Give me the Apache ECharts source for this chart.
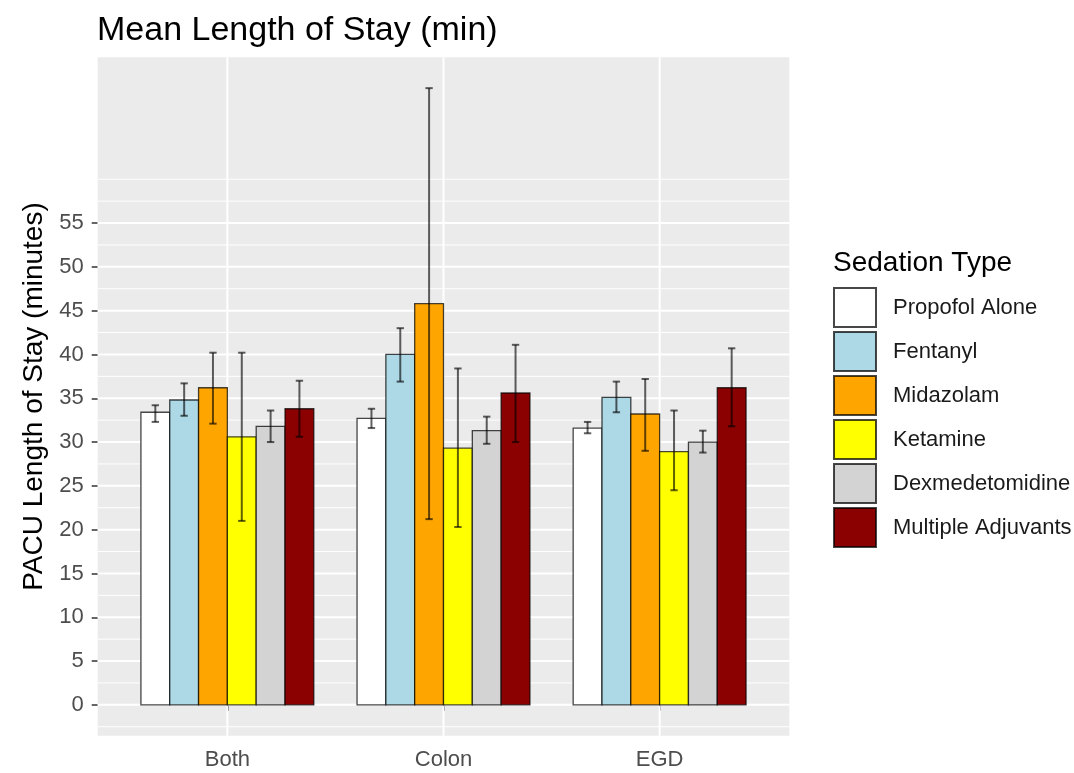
<!DOCTYPE html>
<html>
<head>
<meta charset="utf-8">
<script src="https://cdn.jsdelivr.net/npm/echarts@6.0.0/dist/echarts.min.js"></script>
<style>
html,body{margin:0;padding:0;background:#fff;}
#chart{width:1074px;height:773px;}
</style>
</head>
<body>
<div id="chart"></div>
<script>
// ---- data ----
const categories = ['Both', 'Colon', 'EGD'];
const sedationTypes = ['Propofol Alone', 'Fentanyl', 'Midazolam', 'Ketamine', 'Dexmedetomidine', 'Multiple Adjuvants'];

const propofolMean = [33.4, 32.7, 31.6];
const fentanylMean = [34.8, 40.0, 35.1];
const midazolamMean = [36.2, 45.8, 33.2];
const ketamineMean = [30.6, 29.3, 28.9];
const dexMean = [31.8, 31.3, 30.0];
const multipleMean = [33.8, 35.6, 36.2];

const propofolLo = [32.3, 31.6, 31.0], propofolHi = [34.2, 33.8, 32.3];
const fentanylLo = [33.0, 36.9, 33.4], fentanylHi = [36.7, 43.0, 36.9];
const midazolamLo = [32.1, 21.2, 29.0], midazolamHi = [40.2, 70.4, 37.2];
const ketamineLo = [21.0, 20.3, 24.5], ketamineHi = [40.2, 38.4, 33.6];
const dexLo = [30.0, 29.8, 28.8], dexHi = [33.6, 32.9, 31.3];
const multipleLo = [30.6, 30.0, 31.8], multipleHi = [37.0, 41.1, 40.7];

const yTickLabels = [0, 5, 10, 15, 20, 25, 30, 35, 40, 45, 50, 55];
const yMinorGrid = [-2.5, 2.5, 7.5, 12.5, 17.5, 22.5, 27.5, 32.5, 37.5, 42.5, 47.5, 52.5, 57.5, 60];
const xTickPositions = [1, 2, 3];

// ---- build ----
const means = [propofolMean, fentanylMean, midazolamMean, ketamineMean, dexMean, multipleMean];
const los = [propofolLo, fentanylLo, midazolamLo, ketamineLo, dexLo, multipleLo];
const his = [propofolHi, fentanylHi, midazolamHi, ketamineHi, dexHi, multipleHi];
const fills = ['#FFFFFF', '#ADD8E6', '#FFA500', '#FFFF00', '#D3D3D3', '#8B0000'];

const allHi = [].concat(...his);
const dataMax = Math.max(...allHi);
const yMin = -0.05 * dataMax;
const yMax = dataMax * 1.05;

const nGroups = sedationTypes.length;
const dodgeWidth = 0.8;
const barW = dodgeWidth / nGroups;
const capW = 0.034;
const outline = 'rgba(0,0,0,0.72)';
const FONT = '"Liberation Sans", Arial, sans-serif';

const series = [];

// gridlines
series.push({
  type: 'custom', name: '_minor', silent: true, z: 1,
  data: yMinorGrid.map(v => [v]), encode: {y: 0},
  renderItem: (params, api) => {
    const cs = params.coordSys;
    const y = api.coord([1, api.value(0)])[1];
    return {type: 'line', shape: {x1: cs.x, y1: y, x2: cs.x + cs.width, y2: y},
      style: {stroke: '#FFFFFF', lineWidth: 1}};
  }
});
series.push({
  type: 'custom', name: '_major', silent: true, z: 1,
  data: yTickLabels.map(v => [v]), encode: {y: 0},
  renderItem: (params, api) => {
    const cs = params.coordSys;
    const y = api.coord([1, api.value(0)])[1];
    return {type: 'line', shape: {x1: cs.x, y1: y, x2: cs.x + cs.width, y2: y},
      style: {stroke: '#FFFFFF', lineWidth: 2}};
  }
});
series.push({
  type: 'custom', name: '_vgrid', silent: true, z: 1,
  data: xTickPositions.map(v => [v]), encode: {x: 0},
  renderItem: (params, api) => {
    const cs = params.coordSys;
    const x = api.coord([api.value(0), 0])[0];
    return {type: 'line', shape: {x1: x, y1: cs.y, x2: x, y2: cs.y + cs.height},
      style: {stroke: '#FFFFFF', lineWidth: 2}};
  }
});

// bars
sedationTypes.forEach((name, j) => {
  series.push({
    type: 'custom', name: name, z: 2,
    itemStyle: {color: fills[j], borderColor: outline, borderWidth: 1.3},
    data: categories.map((c, i) => [i + 1, means[j][i]]),
    encode: {x: 0, y: 1},
    renderItem: (params, api) => {
      const xc = api.value(0) + (j - (nGroups - 1) / 2) * barW;
      const v = api.value(1);
      const p0 = api.coord([xc - barW / 2, v]);
      const p1 = api.coord([xc + barW / 2, 0]);
      return {type: 'rect',
        shape: {x: p0[0], y: p0[1], width: p1[0] - p0[0], height: p1[1] - p0[1]},
        style: {fill: fills[j], stroke: outline, lineWidth: 1.3}};
    }
  });
});

// error bars
const errData = [];
sedationTypes.forEach((name, j) => {
  categories.forEach((c, i) => errData.push([i + 1, los[j][i], his[j][i], j]));
});
series.push({
  type: 'custom', name: '_err', silent: true, z: 3,
  data: errData, encode: {x: 0, y: [1, 2]},
  renderItem: (params, api) => {
    const j = api.value(3);
    const xc = api.value(0) + (j - (nGroups - 1) / 2) * barW;
    const lo = api.coord([xc, api.value(1)]);
    const hi = api.coord([xc, api.value(2)]);
    const half = api.size([capW, 0])[0] / 2;
    const st = {stroke: 'rgba(0,0,0,0.62)', lineWidth: 2};
    return {type: 'group', children: [
      {type: 'line', shape: {x1: lo[0], y1: lo[1], x2: hi[0], y2: hi[1]}, style: st},
      {type: 'line', shape: {x1: hi[0] - half, y1: hi[1], x2: hi[0] + half, y2: hi[1]}, style: st},
      {type: 'line', shape: {x1: lo[0] - half, y1: lo[1], x2: lo[0] + half, y2: lo[1]}, style: st}
    ]};
  }
});

const chart = echarts.init(document.getElementById('chart'), null, {renderer: 'canvas'});
chart.setOption({
  animation: false,
  backgroundColor: '#FFFFFF',
  textStyle: {fontFamily: FONT},
  title: [
    {text: 'Mean Length of Stay (min)', left: 92, top: 9,
     textStyle: {fontFamily: FONT, fontSize: 34, fontWeight: 'normal', color: '#000000'}},
    {text: 'Sedation Type', left: 828, top: 244,
     textStyle: {fontFamily: FONT, fontSize: 28, fontWeight: 'normal', color: '#000000'}}
  ],
  legend: {
    orient: 'vertical', left: 828, top: 282,
    itemWidth: 42, itemHeight: 39, itemGap: 3,
    icon: 'rect',
    data: sedationTypes,
    textStyle: {fontFamily: FONT, fontSize: 22, color: '#1A1A1A', padding: [4, 0, 0, 12]},
    selectedMode: false
  },
  grid: {left: 97.7, right: 284.7, top: 57.3, bottom: 37.3, show: true,
    backgroundColor: '#EBEBEB', borderWidth: 0, containLabel: false, outerBoundsMode: 'none'},
  xAxis: {
    type: 'value', min: 0.4, max: 3.6,
    axisLine: {show: false},
    splitLine: {show: false},
    axisTick: {show: true, customValues: xTickPositions, length: 6, lineStyle: {color: '#333333', width: 1.5}},
    axisLabel: {customValues: xTickPositions, margin: 13, fontSize: 22, color: '#4D4D4D', fontFamily: FONT,
      formatter: v => categories[Math.round(v) - 1] || ''}
  },
  yAxis: {
    type: 'value', min: yMin, max: yMax,
    name: 'PACU Length of Stay (minutes)', nameLocation: 'middle', nameGap: 39,
    nameTextStyle: {fontFamily: FONT, fontSize: 28, color: '#000000'},
    axisLine: {show: false},
    splitLine: {show: false},
    axisTick: {show: true, customValues: yTickLabels, length: 6, lineStyle: {color: '#333333', width: 1.5}},
    axisLabel: {customValues: yTickLabels, margin: 14, fontSize: 22, color: '#4D4D4D', fontFamily: FONT,
      padding: [5, 0, 0, 0]}
  },
  series: series
});
</script>
</body>
</html>
